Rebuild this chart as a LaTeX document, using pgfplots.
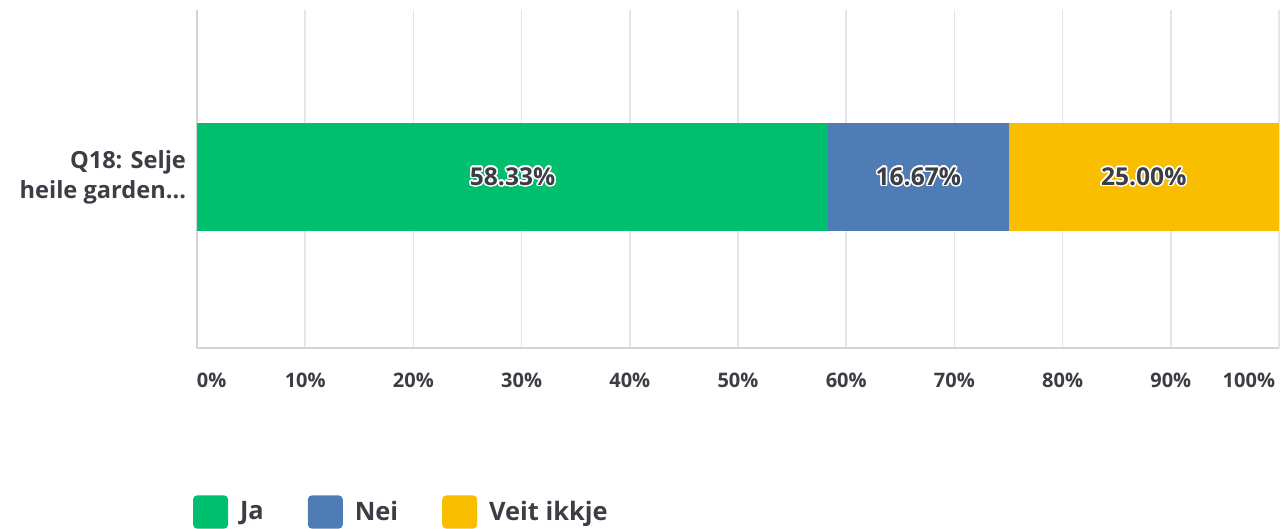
\documentclass[border=0pt]{standalone}
\usepackage{fontspec}
\setmainfont{Open Sans}
\usepackage{pgfplots}
\pgfplotsset{compat=1.18}
\usepackage[copies]{contour}
\contourlength{0.7pt}
\contournumber{24}
\definecolor{cja}{HTML}{00BF6F}
\definecolor{cnei}{HTML}{507CB6}
\definecolor{cveit}{HTML}{F9BE00}
\definecolor{ctext}{HTML}{3B3E45}
\definecolor{cgrid}{HTML}{E6E6E6}
\definecolor{caxis}{HTML}{D4D4D4}
\pgfplotsset{
  basebox/.style={
    at={(98.5pt,90.5pt)}, anchor=south west,
    scale only axis, width=541pt, height=169pt,
    xmin=0, xmax=100, ymin=-1, ymax=1,
  }
}
\begin{document}
\begin{tikzpicture}
\useasboundingbox (0,0) rectangle (640.5pt,264.5pt);
\begin{axis}[
  basebox,
  xbar stacked, bar width=54pt,
  axis x line*=bottom, axis y line*=left,
  axis line style={draw=caxis, line width=0.8pt, -},
  xmajorgrids, grid style={draw=cgrid, line width=0.8pt},
  xtick={0,10,...,100},
  xticklabels={\makebox[0pt][l]{0\%},10\%,20\%,30\%,40\%,50\%,60\%,70\%,80\%,90\%,\makebox[0pt][r]{100\%\hspace{2pt}}},
  xticklabel style={font=\bfseries\fontsize{10}{12}\selectfont, text=ctext, yshift=-9pt},
  ytick={0.01},
  yticklabels={Q18: Selje\\heile garden…},
  yticklabel style={font=\bfseries\fontsize{11.8}{15}\selectfont, text=ctext, align=right, xshift=-2pt},
  major tick length=0pt,
  legend style={at={(rel axis cs:-0.004,-0.435)}, anchor=north west, draw=none, fill=none,
    inner sep=0pt, font=\bfseries\fontsize{12.7}{15}\selectfont, text=ctext,
    nodes={inner sep=0pt},
    legend columns=-1,
    /tikz/every odd column/.append style={column sep=6pt},
    /tikz/every even column/.append style={column sep=22pt}},
  legend image code/.code={\fill[#1, rounded corners=2pt] (0pt,-8.3pt) rectangle (17.5pt,8.3pt);},
  every axis plot/.append style={draw=none},
]
\addplot[fill=cja] coordinates {(58.33,0.01)};
\addplot[fill=cnei] coordinates {(16.67,0.01)};
\addplot[fill=cveit] coordinates {(25.00,0.01)};
\legend{Ja,Nei,Veit ikkje}
\end{axis}
\begin{axis}[
  basebox, hide axis, clip=false,
  point meta=explicit symbolic,
  nodes near coords={\contour{white}{\pgfplotspointmeta}},
  every node near coord/.style={anchor=center, font=\bfseries\fontsize{12.3}{14}\selectfont, text=ctext},
]
\addplot[draw=none, mark=none] coordinates {
  (29.165,0.01) [58.33\%]
  (66.665,0.01) [16.67\%]
  (87.5,0.01) [25.00\%]
};
\end{axis}
\end{tikzpicture}
\end{document}
